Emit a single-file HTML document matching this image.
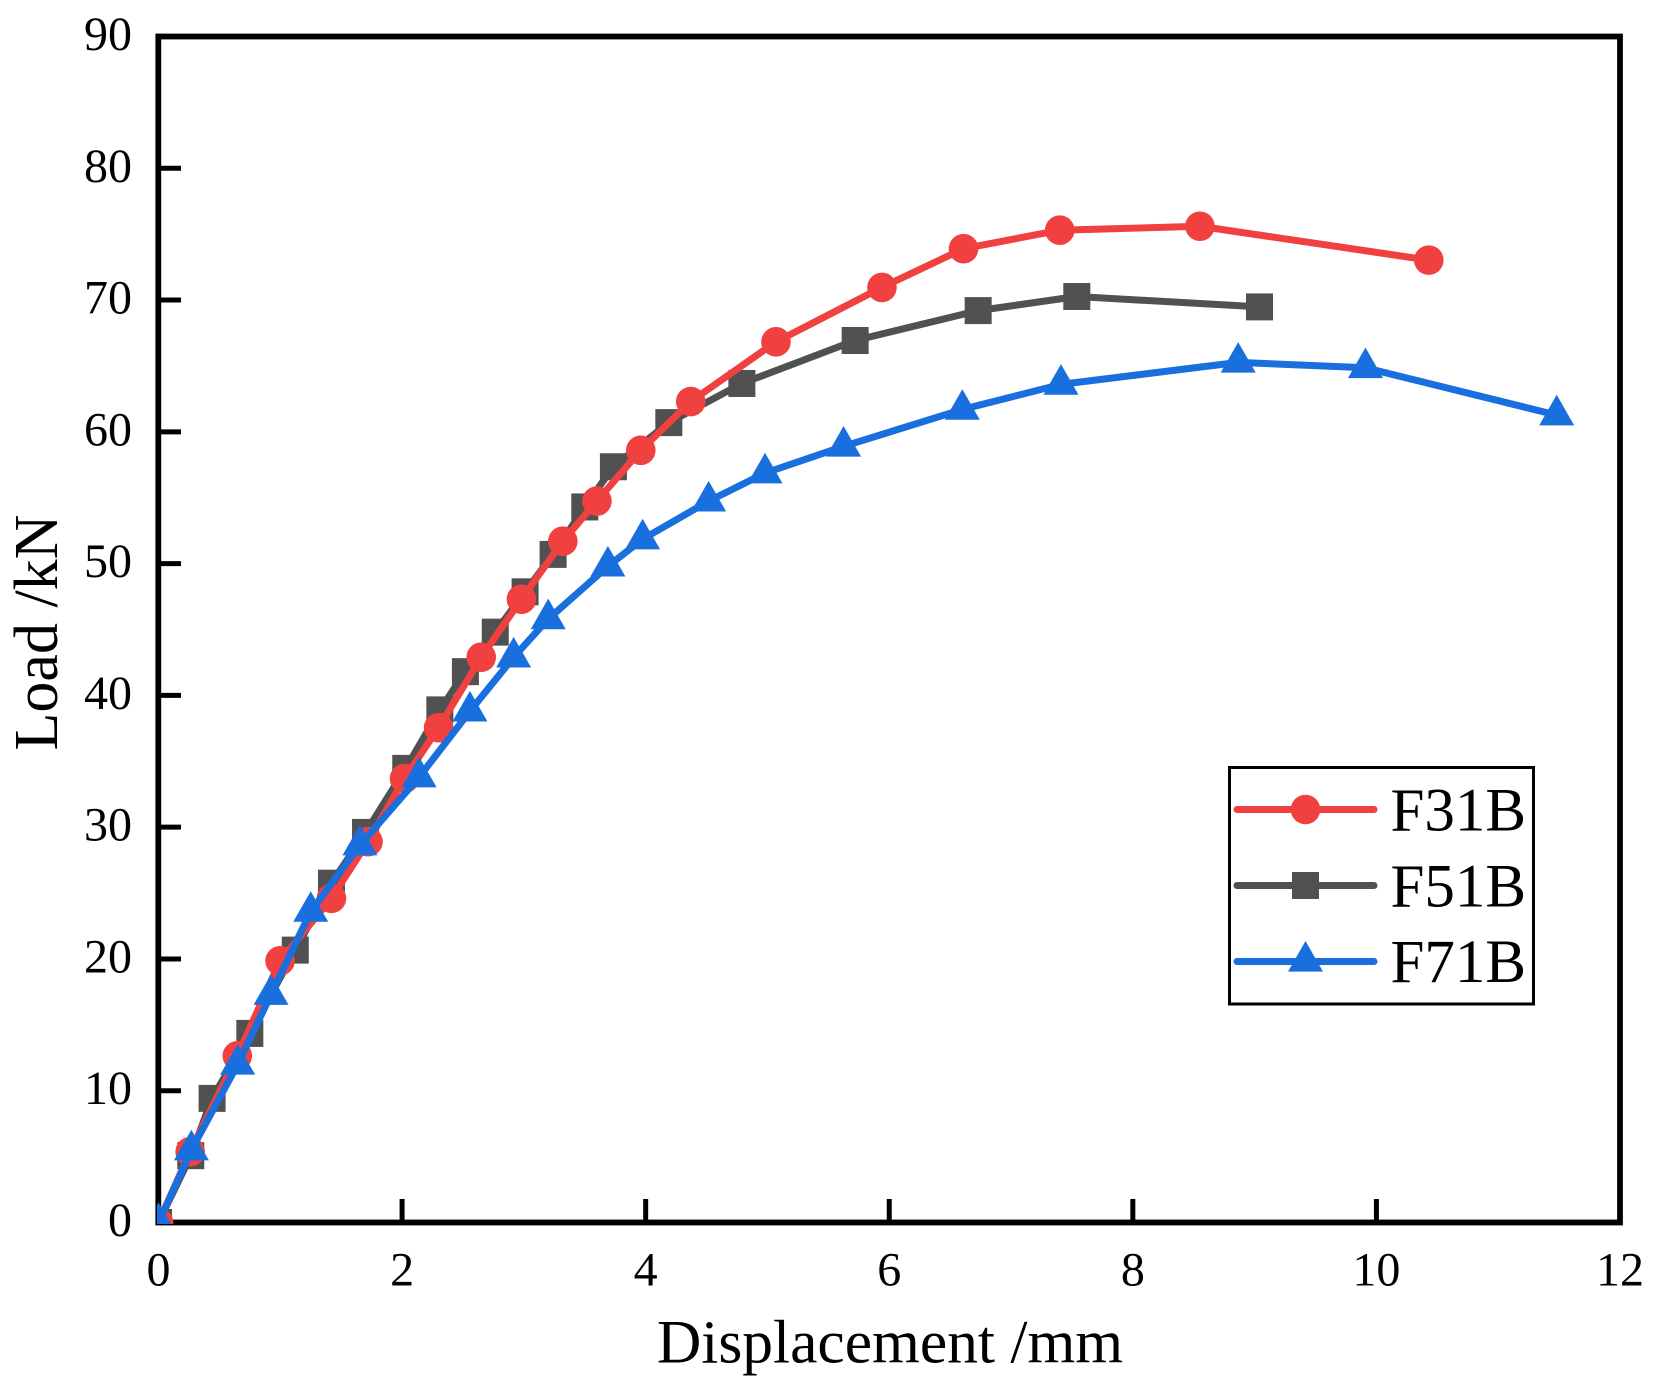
<!DOCTYPE html>
<html lang="en">
<head>
<meta charset="utf-8">
<title>Load vs Displacement</title>
<style>
html,body{margin:0;padding:0;background:#fff;}
body{width:1677px;height:1398px;overflow:hidden;}
svg{display:block;}
text{font-family:"Liberation Serif",serif;fill:#000;}
</style>
</head>
<body>
<svg id="chart" xmlns="http://www.w3.org/2000/svg" width="1677" height="1398" viewBox="0 0 1677 1398">
  <defs><clipPath id="plot-clip"><rect x="157" y="36" width="1464" height="1188"/></clipPath></defs>
  <rect x="0" y="0" width="1677" height="1398" fill="#fff"/>
  <g id="ticks"></g>
  <rect x="158.3" y="36.5" width="1461.7" height="1186" fill="none" stroke="#000" stroke-width="5.8"/>
  <g id="tick-labels"></g>
  <g id="series" clip-path="url(#plot-clip)"></g>
  <text x="890" y="1362.5" font-size="61.5" text-anchor="middle">Displacement /mm</text>
  <text transform="translate(57,632.5) rotate(-90)" font-size="62" text-anchor="middle">Load /kN</text>
  <g>
    <rect x="1229.5" y="767.5" width="304" height="236.5" fill="#fff" stroke="#000" stroke-width="3"/>
    <g>
      <line x1="1237" y1="809.5" x2="1374" y2="809.5" stroke="#F14040" stroke-width="7" stroke-linecap="round"/>
      <circle cx="1305.5" cy="809.5" r="14.8" fill="#F14040"/>
      <text x="1390.5" y="830.5" font-size="61">F31B</text>
    </g>
    <g>
      <line x1="1237" y1="885.5" x2="1374" y2="885.5" stroke="#515151" stroke-width="7" stroke-linecap="round"/>
      <rect x="1292" y="872" width="27" height="27" fill="#515151"/>
      <text x="1390.5" y="906.5" font-size="61">F51B</text>
    </g>
    <g>
      <line x1="1237" y1="961.5" x2="1374" y2="961.5" stroke="#1A6FDF" stroke-width="7" stroke-linecap="round"/>
      <polygon points="1305.5,941 1323,971.6 1288,971.6" fill="#1A6FDF"/>
      <text x="1390.5" y="982" font-size="61">F71B</text>
    </g>
  </g>
</svg>
<script>
var xTickValues = [0, 2, 4, 6, 8, 10, 12];
var yTickValues = [0, 10, 20, 30, 40, 50, 60, 70, 80, 90];

var f31bDisplacement = [0, 0.26, 0.647, 0.998, 1.42, 1.72, 2.02, 2.30, 2.65, 2.98, 3.32, 3.60, 3.96, 4.37, 5.07, 5.94, 6.61, 7.40, 8.551, 10.43];
var f31bLoad = [0, 5.37, 12.65, 19.86, 24.6, 28.9, 33.7, 37.55, 42.9, 47.3, 51.7, 54.75, 58.6, 62.3, 66.83, 70.96, 73.9, 75.3, 75.6, 73.03];

var f51bDisplacement = [0, 0.265, 0.44, 0.75, 1.123, 1.42, 1.70, 2.03, 2.31, 2.52, 2.765, 3.01, 3.24, 3.50, 3.735, 4.19, 4.79, 5.72, 6.73, 7.54, 9.04];
var f51bLoad = [0, 5.07, 9.42, 14.35, 20.67, 25.75, 29.6, 34.46, 38.9, 41.8, 44.8, 47.86, 50.7, 54.3, 57.35, 60.7, 63.67, 66.93, 69.2, 70.27, 69.48];

var f71bDisplacement = [0, 0.27, 0.65, 0.924, 1.25, 1.654, 2.14, 2.557, 2.916, 3.20, 3.69, 3.975, 4.517, 4.98, 5.625, 6.60, 7.41, 8.865, 9.91, 11.48];
var f71bLoad = [0, 5.5, 12.0, 17.3, 23.6, 28.64, 33.8, 38.8, 42.9, 45.8, 49.8, 51.86, 54.74, 56.87, 58.9, 61.7, 63.6, 65.27, 64.86, 61.27];

var NS = 'http://www.w3.org/2000/svg';

function xScale(d) { return 158.5 + d * (1461.5 / 12); }
function yScale(v) { return 1222.5 - v * (1186 / 90); }

function make(tag, attrs) {
  var el = document.createElementNS(NS, tag);
  for (var k in attrs) { el.setAttribute(k, attrs[k]); }
  return el;
}

var ticksGroup = document.getElementById('ticks');
var labelsGroup = document.getElementById('tick-labels');

xTickValues.forEach(function (t) {
  var x = xScale(t);
  var tick = make('line', { x1: x, x2: x, y1: 1222.5, y2: 1199, stroke: '#000', 'stroke-width': 5 });
  
  
  ticksGroup.appendChild(tick);
  var label = make('text', { x: x, y: 1285.5, 'font-size': 48, 'text-anchor': 'middle' });
  
  
  label.textContent = String(t);
  labelsGroup.appendChild(label);
});

yTickValues.forEach(function (t) {
  var y = yScale(t);
  var tick = make('line', { x1: 158.5, x2: 181, y1: y, y2: y, stroke: '#000', 'stroke-width': 5 });
  
  
  ticksGroup.appendChild(tick);
  var label = make('text', { x: 132, y: y + 13.5, 'font-size': 48, 'text-anchor': 'end' });
  
  
  label.textContent = String(t);
  labelsGroup.appendChild(label);
});

function drawMarker(group, kind, x, y, color) {
  var m;
  if (kind === 'circle') {
    m = make('circle', { cx: x, cy: y, r: 14.8, fill: color });
  } else if (kind === 'square') {
    m = make('rect', { x: x - 13.5, y: y - 13.5, width: 27, height: 27, fill: color });
  } else {
    m = make('polygon', { points: x + ',' + (y - 20.3) + ' ' + (x + 17.5) + ',' + (y + 10.3) + ' ' + (x - 17.5) + ',' + (y + 10.3), fill: color });
  }
  
  
  group.appendChild(m);
}

function drawSeries(name, xs, ys, color, kind) {
  var g = make('g', {});
  
  
  var pts = xs.map(function (d, i) { return xScale(d) + ',' + yScale(ys[i]); }).join(' ');
  var line = make('polyline', { points: pts, fill: 'none', stroke: color, 'stroke-width': 7, 'stroke-linejoin': 'round' });
  
  
  g.appendChild(line);
  xs.forEach(function (d, i) { drawMarker(g, kind, xScale(d), yScale(ys[i]), color); });
  document.getElementById('series').appendChild(g);
}

drawSeries('series-f51b', f51bDisplacement, f51bLoad, '#515151', 'square');
drawSeries('series-f31b', f31bDisplacement, f31bLoad, '#F14040', 'circle');
drawSeries('series-f71b', f71bDisplacement, f71bLoad, '#1A6FDF', 'triangle');
</script>
</body>
</html>
